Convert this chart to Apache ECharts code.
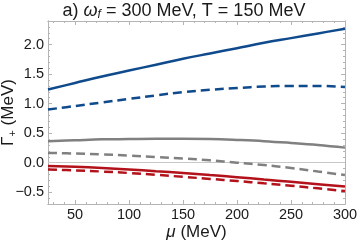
<!DOCTYPE html>
<html><head><meta charset="utf-8">
<script src="https://cdn.jsdelivr.net/npm/echarts@6/dist/echarts.min.js"></script>
<style>html,body{margin:0;padding:0;background:#fff}#c{width:359px;height:242px}</style>
</head><body><div id="c"></div>
<script>
const mu = [25, 50, 75, 100, 125, 150, 175, 200, 225, 250, 275, 300];
const blueSolid  = [1.24, 1.35, 1.46, 1.56, 1.66, 1.76, 1.85, 1.94, 2.03, 2.11, 2.19, 2.27];
const blueDashed = [0.90, 0.96, 1.02, 1.08, 1.14, 1.195, 1.235, 1.265, 1.29, 1.30, 1.30, 1.28];
const graySolid  = [0.365, 0.38, 0.395, 0.40, 0.405, 0.405, 0.40, 0.385, 0.365, 0.335, 0.30, 0.255];
const grayDashed = [0.165, 0.155, 0.14, 0.12, 0.095, 0.07, 0.04, 0.0, -0.04, -0.09, -0.15, -0.21];
const redSolid   = [-0.055, -0.07, -0.09, -0.115, -0.145, -0.175, -0.21, -0.245, -0.285, -0.325, -0.365, -0.405];
const redDashed  = [-0.115, -0.13, -0.15, -0.175, -0.205, -0.24, -0.275, -0.31, -0.35, -0.39, -0.435, -0.48];
const xTicks = [50, 100, 150, 200, 250, 300];
const xMinor = [30, 40, 60, 70, 80, 90, 110, 120, 130, 140, 160, 170, 180, 190, 210, 220, 230, 240, 260, 270, 280, 290];
const yTicks = [-0.5, 0, 0.5, 1.0, 1.5, 2.0];
const yMinor = [-0.6, -0.4, -0.3, -0.2, -0.1, 0.1, 0.2, 0.3, 0.4, 0.6, 0.7, 0.8, 0.9, 1.1, 1.2, 1.3, 1.4, 1.6, 1.7, 1.8, 1.9, 2.1, 2.2, 2.3];
const titleText = 'a) {i|ω}{s|f} = 300 MeV, T = 150 MeV';

const BLUE = '#0f4a8c', GRAY = '#808080', RED = '#b3121b', FRAME = '#b4b4b4';
const FONT = 'Liberation Sans';
const X0 = 25, X1 = 300, Y0 = -0.7, Y1 = 2.4;

function xAx(pos, ticks, len, labels, extra) {
  return Object.assign({
    type: 'value', position: pos, min: X0, max: X1,
    axisLine: { show: true, onZero: false, lineStyle: { color: FRAME, width: 1 } },
    axisTick: { show: true, inside: true, length: len, customValues: ticks, lineStyle: { color: FRAME } },
    axisLabel: labels ? { show: true, customValues: ticks, color: '#1a1a1a', fontSize: 14.5, fontFamily: FONT, margin: 3 } : { show: false },
    splitLine: { show: false }, nameMoveOverlap: false
  }, extra || {});
}
function yAx(pos, ticks, len, labels, extra) {
  return Object.assign({
    type: 'value', position: pos, min: Y0, max: Y1,
    axisLine: { show: true, onZero: false, lineStyle: { color: FRAME, width: 1 } },
    axisTick: { show: true, inside: true, length: len, customValues: ticks, lineStyle: { color: FRAME } },
    axisLabel: labels ? { show: true, customValues: ticks, color: '#1a1a1a', fontSize: 14.5, fontFamily: FONT, margin: 4,
      formatter: v => (v < 0 ? '\u2212' : '') + Math.abs(v).toFixed(1) } : { show: false },
    splitLine: { show: false }, nameMoveOverlap: false
  }, extra || {});
}

const chart = echarts.init(document.getElementById('c'), null, { renderer: 'canvas' });
function ser(data, color, dashed, extra) {
  return Object.assign({
    type: 'line', xAxisIndex: 0, yAxisIndex: 0, smooth: 0.4, symbol: 'none',
    data: mu.map((m, i) => [m, data[i]]),
    lineStyle: { color, width: 2.5, type: dashed ? [9, 5] : 'solid' },
    z: 3, silent: true
  }, extra || {});
}
chart.setOption({
  animation: false,
  graphic: [{
    type: 'text', x: 184, y: 11, silent: true,
    style: {
      text: titleText, align: 'center', verticalAlign: 'middle',
      fontFamily: FONT, fontSize: 18, fill: '#1a1a1a',
      rich: { i: { fontFamily: FONT, fontStyle: 'italic', fontSize: 18, fill: '#1a1a1a' },
              s: { fontFamily: FONT, fontStyle: 'italic', fontSize: 12, padding: [8, 0, 0, 0], fill: '#1a1a1a' } }
    }
  }],
  grid: { left: 48, right: 14, top: 21, bottom: 38, outerBoundsMode: 'none', containLabel: false },
  xAxis: [
    xAx('bottom', xTicks, 4, true, {
      name: '{i|μ} (MeV)', nameLocation: 'middle', nameGap: 20,
      nameTextStyle: { fontFamily: FONT, fontSize: 17, color: '#1a1a1a', rich: { i: { fontFamily: FONT, fontStyle: 'italic', fontSize: 17, color: '#1a1a1a' } } }
    }),
    xAx('bottom', xMinor, 2, false),
    xAx('top', xTicks, 4, false),
    xAx('top', xMinor, 2, false)
  ],
  yAxis: [
    yAx('left', yTicks, 4, true, {
      name: 'Γ{s|+} (MeV)', nameLocation: 'middle', nameGap: 30,
      nameTextStyle: { fontFamily: FONT, fontSize: 17, color: '#1a1a1a', rich: { s: { fontFamily: FONT, fontSize: 11, color: '#1a1a1a', padding: [9, 0, 0, 0] } } }
    }),
    yAx('left', yMinor, 2, false),
    yAx('right', yTicks, 4, false),
    yAx('right', yMinor, 2, false)
  ],
  series: [
    ser(blueSolid, BLUE, false, {
      markLine: { silent: true, symbol: 'none', label: { show: false },
        lineStyle: { color: '#c8c8c8', width: 1, type: 'solid' }, data: [{ yAxis: 0 }], z: 1 }
    }),
    ser(blueDashed, BLUE, true),
    ser(graySolid, GRAY, false),
    ser(grayDashed, GRAY, true),
    ser(redSolid, RED, false),
    ser(redDashed, RED, true)
  ]
});
</script></body></html>
